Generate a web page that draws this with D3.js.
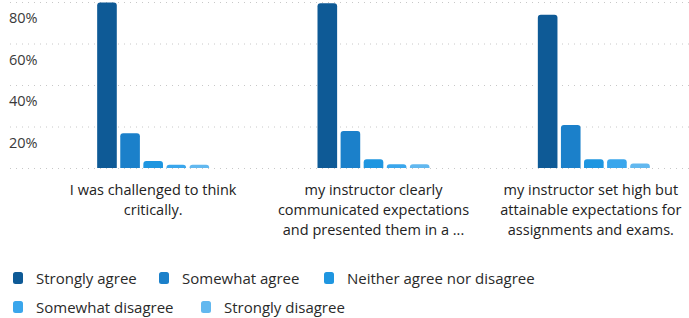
<!DOCTYPE html>
<html>
<head>
<meta charset="utf-8">
<script src="https://d3js.org/d3.v7.min.js"></script>
<style>
  body { margin: 0; background: #fff; }
  svg { display: block; font-family: "Open Sans", sans-serif; }
</style>
</head>
<body>
<script>
// data (percent of responses)
var questions = [
  ["I was challenged to think", "critically."],
  ["my instructor clearly", "communicated expectations", "and presented them in a ..."],
  ["my instructor set high but", "attainable expectations for", "assignments and exams."]
];
var responses = ["Strongly agree", "Somewhat agree", "Neither agree nor disagree", "Somewhat disagree", "Strongly disagree"];
var stronglyAgree    = [79.8, 79.4, 73.8];
var somewhatAgree    = [16.7, 17.8, 20.7];
var neitherAgree     = [3.4, 4.2, 4.2];
var somewhatDisagree = [1.6, 1.8, 4.2];
var stronglyDisagree = [1.6, 1.8, 2.2];
var yTicks = [20, 40, 60, 80];
var colors = ["#0e5a96", "#1b80ca", "#1f96e0", "#3aa6ec", "#62b8ef"];

var series = [stronglyAgree, somewhatAgree, neitherAgree, somewhatDisagree, stronglyDisagree];

var w = 689, h = 318;
var svg = d3.select("body").append("svg")
  .attr("width", w)
  .attr("height", h);

// plot area runs a bit past the right edge, like the cropped screenshot
var x0 = d3.scaleBand()
  .domain(d3.range(questions.length))
  .range([43, 704])
  .paddingInner(0);

var x1 = d3.scaleBand()
  .domain(d3.range(responses.length))
  .range([0, 112])
  .paddingInner(0.15);

var y = d3.scaleLinear()
  .domain([0, 80])
  .range([168, 2]);

// dotted gridlines
svg.append("g")
  .selectAll("line")
  .data([0].concat(yTicks))
  .enter().append("line")
  .attr("x1", 10)
  .attr("x2", w)
  .attr("y1", function(d){ return y(d) + 0.5; })
  .attr("y2", function(d){ return y(d) + 0.5; })
  .attr("stroke", "#c8c8c8")
  .attr("stroke-width", 1)
  .attr("stroke-dasharray", "1,5");

// y labels sit just under their gridline
svg.append("g")
  .selectAll("text")
  .data(yTicks)
  .enter().append("text")
  .attr("x", 9)
  .attr("y", function(d){ return y(d) + 21; })
  .attr("font-size", 14.5)
  .attr("fill", "#3a3a3a")
  .text(function(d){ return d + "%"; });

// bars with rounded tops
function barPath(bx, by, bw, bh) {
  var r = Math.min(3, bh, bw / 2);
  return "M" + bx + "," + (by + bh) +
    "V" + (by + r) +
    "Q" + bx + "," + by + " " + (bx + r) + "," + by +
    "H" + (bx + bw - r) +
    "Q" + (bx + bw) + "," + by + " " + (bx + bw) + "," + (by + r) +
    "V" + (by + bh) + "Z";
}

var groups = svg.append("g")
  .selectAll("g")
  .data(questions)
  .enter().append("g")
  .attr("transform", function(d, i){
    return "translate(" + (x0(i) + (x0.bandwidth() - 112) / 2) + ",0)";
  });

groups.selectAll("path")
  .data(function(d, i){
    return series.map(function(s, k){ return {k: k, v: s[i]}; });
  })
  .enter().append("path")
  .attr("d", function(d){
    return barPath(x1(d.k), y(d.v), x1.bandwidth(), y(0) - y(d.v));
  })
  .attr("fill", function(d){ return colors[d.k]; });

// category labels
var labels = svg.append("g")
  .selectAll("text")
  .data(questions)
  .enter().append("text")
  .attr("text-anchor", "middle")
  .attr("font-size", 14.5)
  .attr("fill", "#222")
  .attr("transform", function(d, i){
    return "translate(" + (x0(i) + x0.bandwidth() / 2 - (i == 2 ? 3 : 0)) + ",195)";
  });

labels.selectAll("tspan")
  .data(function(d){ return d; })
  .enter().append("tspan")
  .attr("x", 0)
  .attr("y", function(d, i){ return i * 19.8; })
  .text(function(d){ return d; });

// legend
var legendPos = [[13, 278], [159, 278], [324, 278], [13, 307], [201, 307]];
var legend = svg.append("g")
  .selectAll("g")
  .data(responses)
  .enter().append("g")
  .attr("transform", function(d, i){
    return "translate(" + legendPos[i][0] + "," + legendPos[i][1] + ")";
  });

legend.append("rect")
  .attr("x", 0)
  .attr("y", -6)
  .attr("width", 10)
  .attr("height", 12)
  .attr("rx", 2.5)
  .attr("fill", function(d, i){ return colors[i]; });

legend.append("text")
  .attr("x", 23)
  .attr("y", 5.5)
  .attr("font-size", 15)
  .attr("fill", "#2a2a2a")
  .text(function(d){ return d; });
</script>
</body>
</html>
